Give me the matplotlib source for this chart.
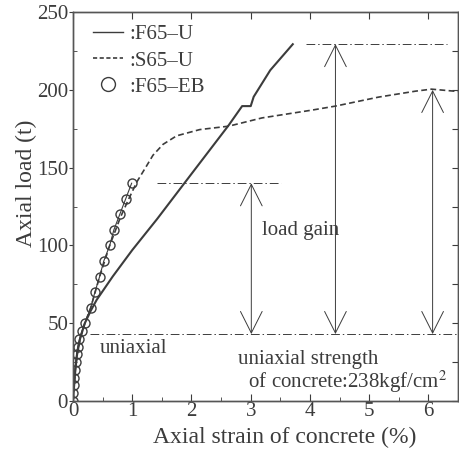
import numpy as np
import matplotlib.pyplot as plt
from matplotlib.lines import Line2D

plt.rcParams['font.family'] = ['Liberation Serif', 'DejaVu Serif']
plt.rcParams['mathtext.fontset'] = 'stix'

ink = '#3c3c3c'

# F65-U (solid)
f65u_strain = [0.0, 0.02, 0.04, 0.07, 0.12, 0.2, 0.3, 0.4, 0.67, 1.0, 1.42, 2.0, 2.63, 2.855, 3.0, 3.05, 3.33, 3.71]
f65u_load = [0, 10, 20, 30, 40, 50, 58, 65, 80, 97, 117, 146, 177.4, 189.6, 189.6, 195.6, 212.7, 229.4]

# S65-U (dashed)
s65u_strain = [0.0, 0.02, 0.04, 0.07, 0.12, 0.2, 0.3, 0.45, 0.62, 0.8, 0.93, 1.08, 1.24, 1.35, 1.52,
               1.75, 2.14, 2.63, 3.19, 4.03, 4.43, 5.16, 5.78, 6.05, 6.5]
s65u_load = [0, 10, 20, 30, 40, 50, 60, 80, 100, 118, 129, 141, 151, 158, 165,
             170.5, 174.5, 176.7, 182, 187, 189.6, 195.4, 199.2, 200.5, 199]

# F65-EB (circles)
f65eb_strain = [0.0, 0.005, 0.01, 0.02, 0.03, 0.045, 0.06, 0.08, 0.11, 0.15, 0.2,
                0.3, 0.37, 0.45, 0.52, 0.62, 0.69, 0.79, 0.89, 0.99]
f65eb_load = [0, 5, 10, 15, 20, 25, 30, 35, 40, 45, 50, 60, 70, 80, 90, 100, 110, 120, 130, 140]

# reference levels (load, x start, x end) and load-gain arrows (x, bottom, top)
ref_levels = [(43, 0.29, 6.5), (140, 1.42, 3.51), (229.5, 3.93, 6.31)]
gain_arrows = [(3.01, 43, 140), (4.43, 43, 229.5), (6.07, 43, 200)]

fig = plt.figure(figsize=(4.59, 4.51), dpi=100)
ax = fig.add_axes([0.159, 0.111, 0.839, 0.862])

ax.plot(f65u_strain, f65u_load, '-', color=ink, lw=1.5)
ax.plot(s65u_strain, s65u_load, '--', color=ink, lw=1.2, dashes=(3.5, 2))
ax.plot(f65eb_strain, f65eb_load, '-', color=ink, lw=0.8)
ax.plot(f65eb_strain, f65eb_load, 'o', mfc='none', mec=ink, mew=1.0, ms=6.5)

dashdot = (0, (9, 3, 1.5, 3))
for load, x0, x1 in ref_levels:
    ax.plot([x0, x1], [load, load], color=ink, lw=0.7, linestyle=dashdot)

for x, lo, hi in gain_arrows:
    ax.annotate('', xy=(x, hi), xytext=(x, lo),
                arrowprops=dict(arrowstyle='<->,head_length=1.55,head_width=0.78',
                                mutation_scale=10, lw=0.7, color=ink,
                                shrinkA=0, shrinkB=0))

ax.text(3.19, 107, 'load gain', fontsize=15, color=ink)
ax.text(0.455, 31, 'uniaxial', fontsize=15, color=ink)
ax.text(2.78, 8.5, 'uniaxial strength\n  of concrete:238kgf/cm$^2$', fontsize=15,
        color=ink, va='baseline', linespacing=0.95)

handles = [
    Line2D([], [], color=ink, lw=1.0),
    Line2D([], [], color=ink, lw=1.2, linestyle='--', dashes=(2.5, 1.5)),
    Line2D([], [], color=ink, lw=0, marker='o', mfc='none', mec=ink, mew=1.0, ms=10),
]
ax.legend(handles, [':F65\u2013U', ':S65\u2013U', ':F65\u2013EB'], loc='upper left',
          bbox_to_anchor=(0.02, 1.0), borderaxespad=0.2, frameon=False, fontsize=15,
          handlelength=1.45, handletextpad=0.3, labelspacing=0.32, labelcolor=ink)

ax.set_xlim(0, 6.5)
ax.set_ylim(0, 250)
ax.set_xticks(np.arange(0, 7, 1))
ax.set_xticks(np.arange(0.5, 6.5, 1), minor=True)
ax.set_yticks(np.arange(0, 251, 50))
ax.set_yticks(np.arange(25, 250, 50), minor=True)

ax.tick_params(axis='x', which='major', direction='in', length=5, top=True,
               labelsize=15, colors=ink, pad=1)
ax.tick_params(axis='x', which='minor', direction='in', length=3, top=False, colors=ink)
ax.tick_params(axis='y', which='major', direction='out', length=3, right=False,
               labelsize=15, colors=ink, pad=0.5)
ax.tick_params(axis='y', which='minor', direction='in', length=3, right=False, colors=ink)

# right-hand ticks point inward at every 25 t
axr = ax.twinx()
axr.set_ylim(0, 250)
axr.set_yticks(np.arange(0, 251, 25))
axr.tick_params(axis='y', direction='in', length=4, labelright=False, colors=ink)

for a in (ax, axr):
    for s in a.spines.values():
        s.set_color('#555555')
        s.set_linewidth(1.0)

ax.set_xlabel('Axial strain of concrete (%)', fontsize=17, color=ink)
ax.set_ylabel('Axial load (t)', fontsize=17, color=ink)
ax.xaxis.set_label_coords(0.55, -0.066)
ax.yaxis.set_label_coords(-0.093, 0.56)

fig.savefig('out.png', dpi=100)
